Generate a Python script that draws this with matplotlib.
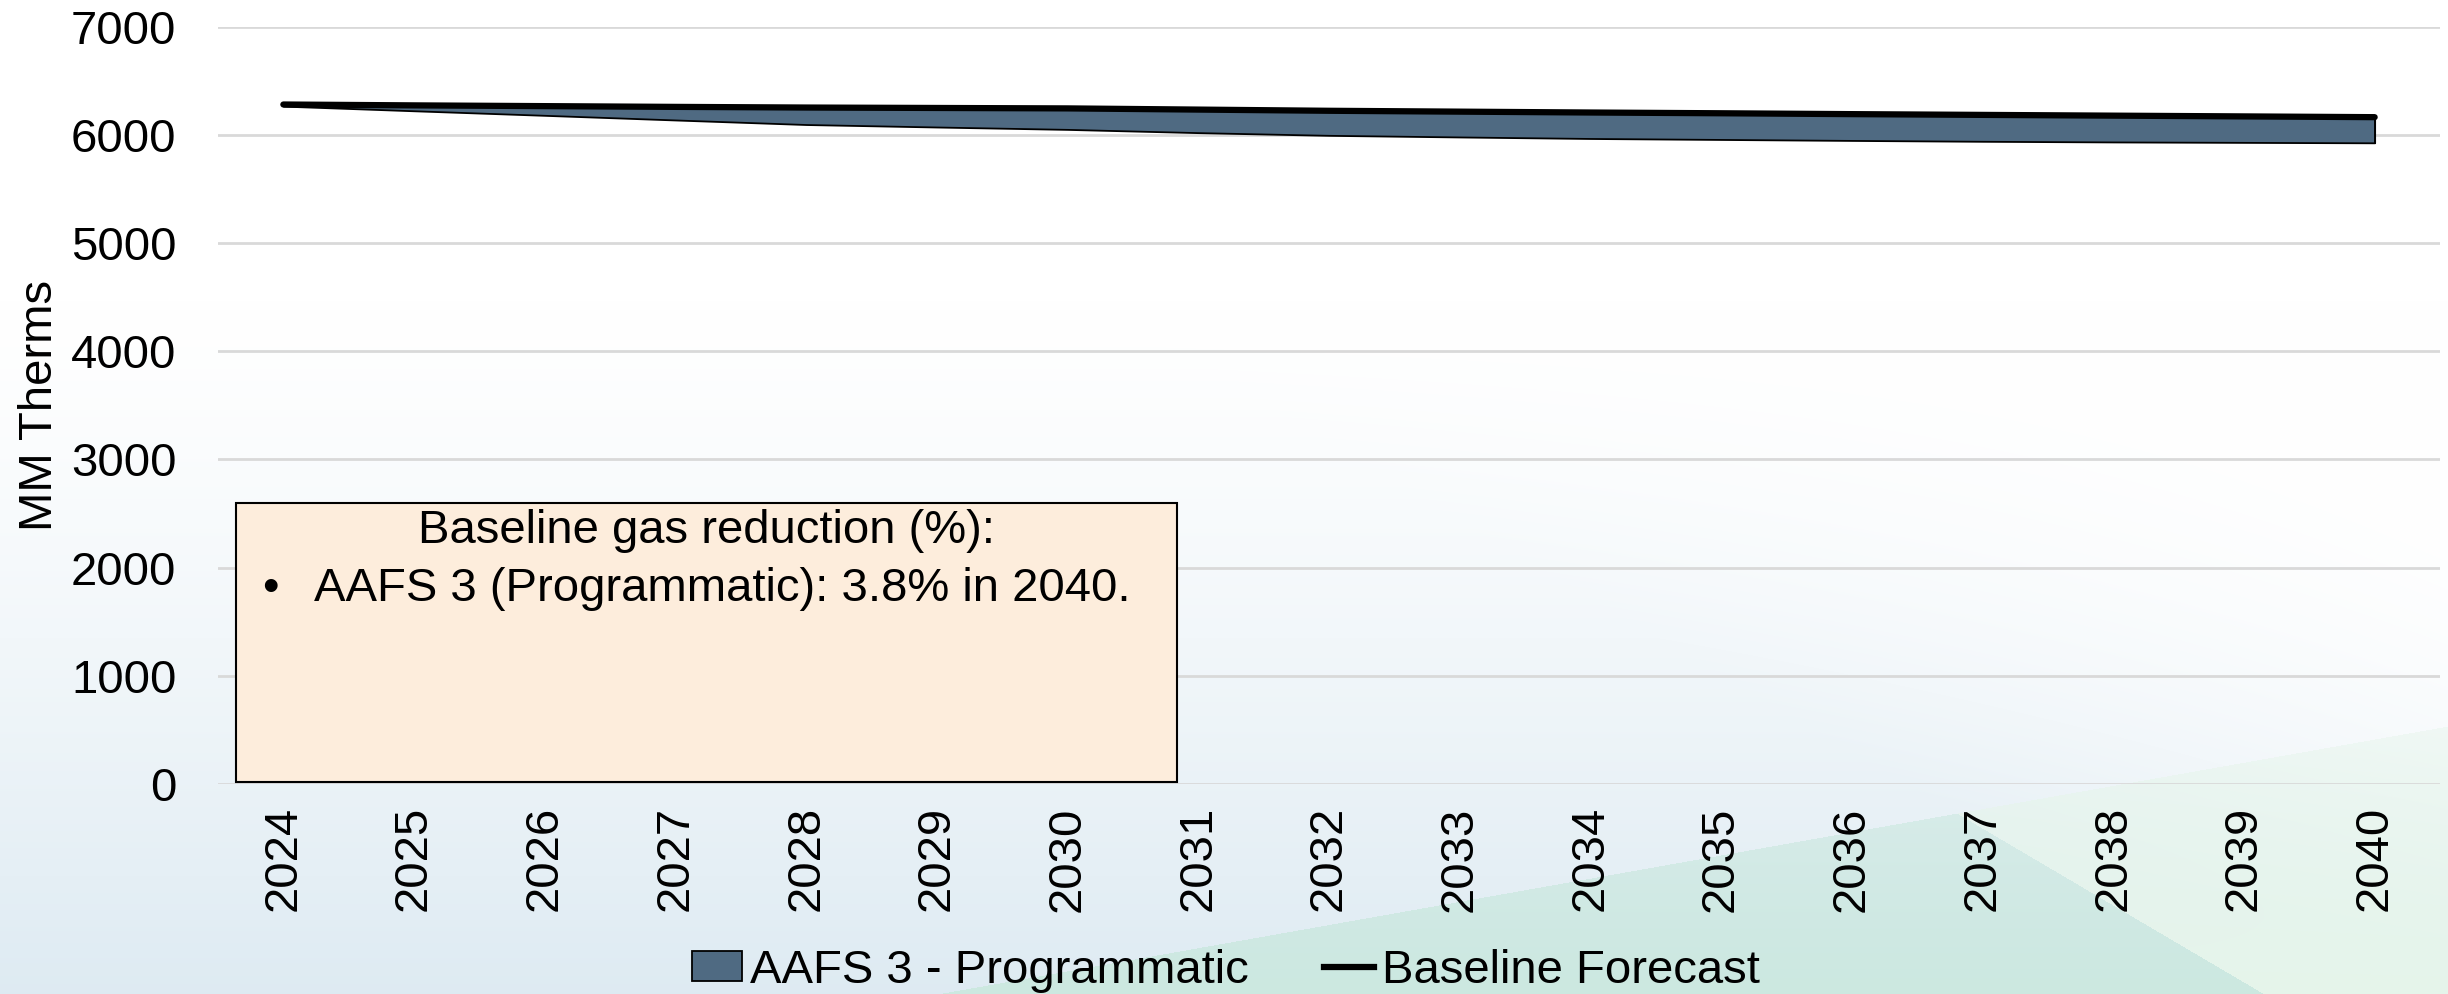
import numpy as np
import matplotlib
matplotlib.use("Agg")
import matplotlib.pyplot as plt
from matplotlib.patches import Patch, Rectangle
from matplotlib.lines import Line2D

# ---- data ----
years = list(range(2024, 2041))
baseline = [6280, 6272, 6265, 6258, 6252, 6248, 6244, 6233, 6222,
            6214, 6206, 6199, 6191, 6184, 6177, 6170, 6163]
programmatic = [6265, 6222, 6180, 6137, 6095, 6072, 6050, 6020, 5995,
                5980, 5966, 5957, 5948, 5940, 5934, 5930, 5926]
yticks = [0, 1000, 2000, 3000, 4000, 5000, 6000, 7000]
series_names = ["AAFS 3 - Programmatic", "Baseline Forecast"]
box_title = "Baseline gas reduction (%):"
box_item = "AAFS 3 (Programmatic): 3.8% in 2040."
ylabel = "MM Therms"

FONT = ["Liberation Sans", "DejaVu Sans"]
plt.rcParams["font.family"] = FONT

W, H = 2448, 994
fig = plt.figure(figsize=(W / 100, H / 100), dpi=100)

# ---- background ----
bg = fig.add_axes([0, 0, 1, 1], zorder=-10)
xx, yy = np.meshgrid(np.arange(W), np.arange(H))
img = np.ones((H, W, 3))
t = np.clip((yy - 300) / (H - 300), 0, 1) ** 1.3
blue = np.array([0.87, 0.92, 0.95])
for c in range(3):
    img[..., c] = 1 - t * (1 - blue[c])
# line L2: (1530,562)->(2264,994): right side lighter
l2 = (xx - 1530) * (994 - 562) - (yy - 562) * (2264 - 1530)
right2 = l2 > 0
# line L1: (937,994)->(2448,726): below is green band
l1 = (yy - 994) - (726 - 994) / (2448 - 937) * (xx - 937)
below1 = l1 > 0
white_mix = np.clip(l2 / 4e5, 0, 1)[..., None]
img = np.where(right2[..., None], img * (1 - 0.9 * white_mix) + 0.9 * white_mix, img)
mint = np.array([0.80, 0.91, 0.88])
mint_light = np.array([0.90, 0.96, 0.92])
tm = np.clip((yy - 700) / 294, 0, 1)[..., None] * 0.6 + 0.4
green = np.where(right2[..., None], mint_light, mint)
img = np.where(below1[..., None], img * (1 - tm) + green * tm, img)
bg.imshow(img, aspect="auto", extent=[0, W, H, 0])
bg.set_axis_off()

# ---- main axes ----
L, R, T, B = 218, 2440, 26.6, 784
ax = fig.add_axes([L / W, 1 - B / H, (R - L) / W, (B - T) / H])
ax.patch.set_alpha(0)

area_color = "#4F6A82"
ax.fill_between(years, programmatic, baseline, facecolor=area_color,
                edgecolor="black", linewidth=1.3, zorder=3)
ax.plot([years[0], years[0]], [programmatic[0], baseline[0]], color="black", lw=1.3, zorder=3)
ax.plot([years[-1], years[-1]], [programmatic[-1], baseline[-1]], color="black", lw=1.3, zorder=3)
ax.plot(years, baseline, color="black", lw=4.5, solid_capstyle="round", zorder=4)

ax.set_xlim(2023.5, 2040.5)
ax.set_ylim(0, 7000)
ax.set_yticks(yticks)
ax.set_yticklabels([str(v) for v in yticks], fontsize=34)
ax.set_xticks(years)
ax.set_xticklabels([str(y) for y in years], rotation=90, fontsize=34)
ax.tick_params(axis="y", length=0, pad=30)
ax.tick_params(axis="x", length=0, pad=16)
ax.grid(axis="y", color="#D9D9D9", lw=2, zorder=0)
ax.grid(axis="x", visible=False)
for s in ax.spines.values():
    s.set_visible(False)
ax.set_ylabel(ylabel, fontsize=34)
ax.yaxis.set_label_coords((62 - L) / (R - L), 0.5)

# ---- text box ----
bx0, bx1, by0, by1 = 236, 1177, 503, 782
fig.patches.append(Rectangle((bx0 / W, 1 - by1 / H), (bx1 - bx0) / W, (by1 - by0) / H,
                             transform=fig.transFigure, facecolor="#FDEDDC",
                             edgecolor="black", lw=1.5, zorder=5))
fig.text((bx0 + bx1) / 2 / W, 1 - 531 / H, box_title, ha="center", va="center",
         fontsize=34, zorder=6)
fig.text(262 / W, 1 - 589 / H, "\u2022", ha="left", va="center", fontsize=34, zorder=6)
fig.text(314 / W, 1 - 589 / H, box_item, ha="left", va="center", fontsize=34, zorder=6)

# ---- legend ----
handles = [Patch(facecolor=area_color, edgecolor="black", lw=1.3),
           Line2D([0], [0], color="black", lw=4.5)]
fig.legend(handles, series_names, loc="center", bbox_to_anchor=(0.5008, 1 - 971 / H),
           ncol=2, frameon=False, fontsize=34, handlelength=1.05, handleheight=0.6,
           handletextpad=0.17, columnspacing=1.6, borderpad=0, borderaxespad=0)

fig.savefig("out.png", dpi=100)
